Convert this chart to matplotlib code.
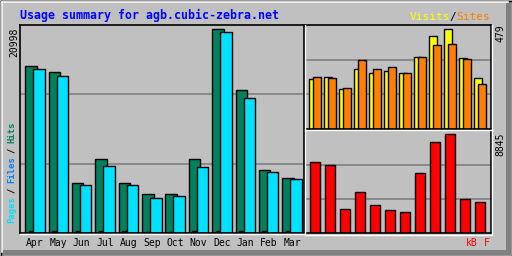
import matplotlib.pyplot as plt
import numpy as np

# monthly usage, Apr .. Mar
months = ['Apr', 'May', 'Jun', 'Jul', 'Aug', 'Sep', 'Oct', 'Nov', 'Dec', 'Jan', 'Feb', 'Mar']
hits = [17170, 16550, 5170, 7650, 5170, 4030, 4030, 7650, 20998, 14790, 6520, 5690]
files = [180, 170, 160, 170, 160, 150, 150, 170, 190, 180, 160, 160]
pages = [16860, 16140, 4970, 6930, 4970, 3620, 3830, 6830, 20690, 13960, 6310, 5590]
visits = [239, 249, 191, 288, 269, 279, 269, 347, 445, 479, 342, 244]
sites = [249, 244, 196, 332, 288, 298, 269, 347, 406, 411, 337, 215]
kbytes = [6410, 6140, 2170, 3700, 2530, 2080, 1900, 5420, 8120, 8845, 3070, 2800]

BG = '#C0C0C0'
MONO = 'DejaVu Sans Mono'
W, H = 512, 256

fig = plt.figure(figsize=(W / 100, H / 100), dpi=100, facecolor=BG)


def px_axes(x0, y0, x1, y1):
    # axes from pixel box (top-left origin)
    return fig.add_axes([x0 / W, 1 - y1 / H, (x1 - x0) / W, (y1 - y0) / H])


def style(ax, top):
    ax.set_facecolor(BG)
    ax.set_ylim(0, top)
    for y in (top / 3, 2 * top / 3):
        ax.axhline(y, color='#808080', lw=1.2, zorder=0)
    ax.set_xticks([])
    ax.set_yticks([])
    for s in ax.spines.values():
        s.set_color('black')
        s.set_linewidth(1.2)


x = np.arange(12)

# main panel: hits / files / pages
ax = px_axes(20, 24.5, 304, 233)
style(ax, 21490)
step = 23.36
ax.set_xlim(-5.3 / step, -5.3 / step + 284 / step)
bw = 11.4 / step
ax.bar(x, hits, width=bw, align='edge', color='#00805C', edgecolor='black', lw=1)
ax.bar(x + 3.5 / step, files, width=bw * 0.6, align='edge', color='#0040FF', edgecolor='black', lw=1)
ax.bar(x + 8 / step, pages, width=bw, align='edge', color='#00E0FF', edgecolor='black', lw=1)

# visits / sites
ax2 = px_axes(305, 25, 491, 129)
style(ax2, 500)
step2 = 15.0
ax2.set_xlim(-4.3 / step2, -4.3 / step2 + 186 / step2)
bw2 = 7.4 / step2
ax2.bar(x, visits, width=bw2, align='edge', color='#FFFF00', edgecolor='black', lw=1)
ax2.bar(x + 4 / step2, sites, width=bw2, align='edge', color='#FF8000', edgecolor='black', lw=1)

# kbytes
ax3 = px_axes(305, 130.3, 491, 233.3)
style(ax3, 9203)
ax3.set_xlim(-5.3 / step2, -5.3 / step2 + 186 / step2)
ax3.bar(x, kbytes, width=9.3 / step2, align='edge', color='#FF0000', edgecolor='black', lw=1)

# overlay in pixel coords for frame, bevels and labels
ov = fig.add_axes([0, 0, 1, 1], zorder=10)
ov.set_xlim(0, W)
ov.set_ylim(H, 0)
ov.axis('off')
ov.patch.set_alpha(0)

# outer 3d frame
ov.plot([0.5, 0.5, W - 0.5, W - 0.5, 0.5], [0.5, H - 0.5, H - 0.5, 0.5, 0.5], color='black', lw=1)
ov.plot([1.5, 1.5], [1.5, H - 4], color='white', lw=1.2)
ov.plot([1.5, W - 4], [1.5, 1.5], color='white', lw=1.2)
ov.fill_between([1, W - 1], H - 6, H - 1, color='#808080', lw=0)
ov.fill_between([W - 6, W - 1], 1, H - 1, color='#808080', lw=0)

# white edges right/bottom of panels
for (x0, y0, x1, y1) in [(20, 24.5, 304, 233), (305, 25, 491, 129), (305, 130.3, 491, 233.3)]:
    ov.plot([x0, x1 + 1.2, x1 + 1.2], [y1 + 1.2, y1 + 1.2, y0], color='white', lw=1)

ov.text(20, 15, 'Usage summary for agb.cubic-zebra.net', color='#0000FF', fontsize=8.4,
        family=MONO, fontweight='bold', ha='left', va='center')

cw = 6.7
x0 = 490 - 12 * cw
ov.text(x0, 17, 'Visits', color='#FFFF00', fontsize=8, family=MONO, ha='left', va='center')
ov.text(x0 + 6 * cw, 17, '/', color='black', fontsize=8, family=MONO, ha='left', va='center')
ov.text(x0 + 7 * cw, 17, 'Sites', color='#FF8000', fontsize=8, family=MONO, ha='left', va='center')

# left vertical label
vw = 5.0
for s, start, col in [('Pages', 0, '#00E0FF'), ('/', 6, 'black'), ('Files', 8, '#0080FF'),
                      ('/', 14, 'black'), ('Hits', 16, '#00805C')]:
    ov.text(12, 223 - start * vw, s, color=col, fontsize=6.4, family=MONO, fontweight='bold',
            rotation=90, ha='center', va='bottom')

ov.text(14, 42, '20998', fontsize=7, family=MONO, rotation=90, ha='center', va='center')
ov.text(500, 33, '479', fontsize=7, family=MONO, rotation=90, ha='center', va='center')
ov.text(500, 144, '8845', fontsize=7, family=MONO, rotation=90, ha='center', va='center')

for i, m in enumerate(months):
    ov.text(20 + 5.3 + i * step + 9.7, 243, m, fontsize=7, family=MONO, ha='center', va='center')

ov.text(465.5, 243, 'kB', color='#FF0000', fontsize=7, family=MONO, ha='left', va='center')
ov.text(484, 243, 'F', color='#FF0000', fontsize=7, family=MONO, ha='left', va='center')

fig.savefig('out.png', dpi=100, facecolor=BG)
